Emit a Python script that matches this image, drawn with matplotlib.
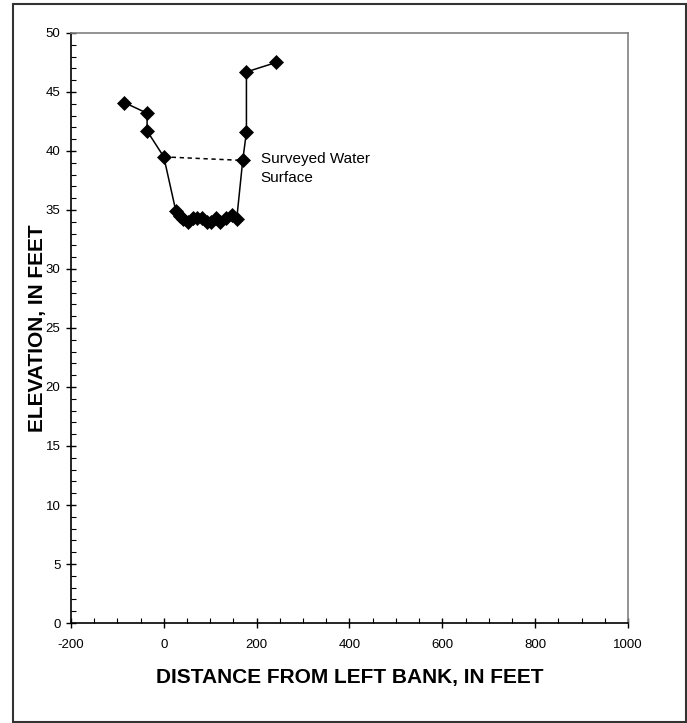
import numpy as np
import matplotlib
matplotlib.use("Agg")
import matplotlib.pyplot as plt
from matplotlib.ticker import MultipleLocator
from matplotlib.patches import Rectangle

plt.rcParams['font.family'] = ['Liberation Sans', 'DejaVu Sans']
plt.rcParams['axes.unicode_minus'] = False

# cross-section survey points
distance = [-85, -36, -36, 0, 26, 34, 42, 52, 62, 72, 82, 92, 102, 112, 122, 134, 147, 157,
            170, 178, 178, 242]
elevation = [44.1, 43.2, 41.7, 39.5, 34.9, 34.5, 34.2, 34.0, 34.3, 34.3, 34.3, 34.0, 34.0,
             34.3, 34.0, 34.3, 34.6, 34.2, 39.2, 41.6, 46.7, 47.5]

# surveyed water surface
ws_distance = [0, 170]
ws_elevation = [39.5, 39.2]

fig = plt.figure(figsize=(6.87, 7.23), dpi=100)
ax = fig.add_axes([0.1033, 0.1383, 0.8108, 0.8161])

ax.plot(distance, elevation, color='black', lw=1.1, marker='D', ms=7.5,
        mfc='black', mec='black', mew=0.5, zorder=3)
ax.plot(ws_distance, ws_elevation, color='black', lw=1.1, dashes=(2.8, 2.4), zorder=2)

ax.text(209, 38.5, 'Surveyed Water\nSurface', fontsize=11, ha='left', va='center',
        linespacing=1.5)

ax.set_xlim(-200, 1000)
ax.set_ylim(0, 50)
ax.xaxis.set_major_locator(MultipleLocator(200))
ax.xaxis.set_minor_locator(MultipleLocator(50))
ax.yaxis.set_major_locator(MultipleLocator(5))
ax.yaxis.set_minor_locator(MultipleLocator(1))

ax.tick_params(which='major', direction='inout', length=7, width=1, labelsize=9.5, pad=4)
ax.tick_params(which='minor', direction='in', length=3.5, width=0.8)
ax.tick_params(axis='x', pad=8)

for s in ['left', 'bottom']:
    ax.spines[s].set_color('black')
    ax.spines[s].set_linewidth(1.2)
for s in ['top', 'right']:
    ax.spines[s].set_color('#808080')
    ax.spines[s].set_linewidth(1.2)

ax.set_xlabel('DISTANCE FROM LEFT BANK, IN FEET', fontsize=15, fontweight='bold', labelpad=12)
ax.set_ylabel('ELEVATION, IN FEET', fontsize=15, fontweight='bold', labelpad=-1)

# outer frame
fig.patches.append(Rectangle((13 / 687, 1 / 723), 673 / 687, 718 / 723,
                             transform=fig.transFigure, fill=False,
                             edgecolor='#333333', lw=1.5))

fig.savefig('out.png', dpi=100)
